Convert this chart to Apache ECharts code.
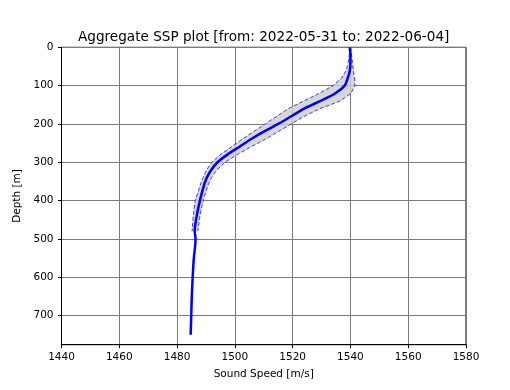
<!DOCTYPE html>
<html>
<head>
<meta charset="utf-8">
<script src="https://cdn.jsdelivr.net/npm/echarts@6/dist/echarts.min.js"></script>
<style>html,body{margin:0;padding:0;background:#fff}#c{width:510px;height:390px}</style>
</head>
<body>
<div id="c"></div>
<script>
// Mean profile
var meanDepth = [0,20,40,60,80,100,120,140,160,180,200,220,240,260,280,300,320,340,360,400,440,480,500,550,600,650,700,750];
var meanSpeed = [1539.8,1540.0,1540.0,1539.8,1539.1,1538.0,1534.8,1529.7,1524.0,1519.5,1515.0,1510.0,1505.5,1501.5,1497.4,1494.0,1491.8,1490.3,1489.3,1487.9,1486.8,1486.1,1486.4,1485.8,1485.4,1485.1,1484.9,1484.7];
// Min / max envelope
var bandDepth = [0,20,40,60,80,100,120,140,160,180,200,220,240,260,280,300,320,340,360,400,440,480];
var minSpeed = [1539.6,1539.6,1539.2,1538.6,1537.0,1534.0,1529.3,1523.8,1518.5,1514.5,1510.5,1506.5,1502.5,1498.8,1495.0,1492.0,1490.2,1489.0,1488.0,1486.3,1485.6,1485.2];
var maxSpeed = [1540.1,1540.4,1540.7,1541.0,1541.4,1541.5,1540.2,1536.5,1529.5,1524.0,1519.5,1515.0,1510.5,1505.5,1500.8,1496.6,1493.8,1491.9,1490.7,1489.0,1487.9,1487.2];
var xTicks = [1440,1460,1480,1500,1520,1540,1560,1580];
var yTicks = [0,100,200,300,400,500,600,700];

function pairs(xs, ys){ return xs.map(function(x,i){ return [x, ys[i]]; }); }

var chart = echarts.init(document.getElementById('c'), null, {renderer:'canvas'});
var font = 'DejaVu Sans';
chart.setOption({
  animation:false,
  backgroundColor:'#fff',
  grid:{left:61.5, right:44, top:47.3, bottom:45.3, show:true, borderColor:'#000', borderWidth:1, backgroundColor:'transparent'},
  graphic:[{type:'text', x:263.7, y:37.5, style:{text:'Aggregate SSP plot [from: 2022-05-31 to: 2022-06-04]', font:'13.6px "DejaVu Sans"', fill:'#000', textAlign:'center', textVerticalAlign:'middle'}}],
  xAxis:{type:'value', min:1440, max:1580, interval:20, name:'Sound Speed [m/s]', nameLocation:'middle', nameGap:24,
    nameTextStyle:{fontFamily:font, fontSize:10.5, color:'#000'},
    axisLine:{show:true, onZero:false, lineStyle:{color:'#000', width:1}},
    axisTick:{show:true, length:3.5, lineStyle:{color:'#000'}, customValues:xTicks},
    axisLabel:{fontFamily:font, fontSize:10.5, color:'#000', margin:7, customValues:xTicks, formatter:function(v){return String(v);}},
    splitLine:{show:true, lineStyle:{color:'#7a7a7a', width:1}}},
  yAxis:{type:'value', inverse:true, min:0, max:776, interval:100, name:'Depth [m]', nameLocation:'middle', nameGap:36,
    nameTextStyle:{fontFamily:font, fontSize:10.5, color:'#000'},
    axisLine:{show:true, onZero:false, lineStyle:{color:'#000', width:1}},
    axisTick:{show:true, length:3.5, lineStyle:{color:'#000'}, customValues:yTicks},
    axisLabel:{fontFamily:font, fontSize:10.5, color:'#000', margin:8, customValues:yTicks, formatter:function(v){return String(v);}},
    splitLine:{show:true, lineStyle:{color:'#7a7a7a', width:1}}},
  series:[
    {type:'custom', silent:true, z:1,
     data:[0],
     renderItem:function(params, api){
       var pts = [];
       for (var i=0;i<bandDepth.length;i++) pts.push(api.coord([minSpeed[i], bandDepth[i]]));
       for (var j=bandDepth.length-1;j>=0;j--) pts.push(api.coord([maxSpeed[j], bandDepth[j]]));
       return {type:'polygon', shape:{points:pts}, style:{fill:'rgba(205,205,205,0.8)', stroke:null}};
     }},
    {type:'line', data:pairs(minSpeed, bandDepth), symbol:'none', z:2,
     lineStyle:{color:'rgba(30,30,255,0.85)', width:1, type:[4,2]}},
    {type:'line', data:pairs(maxSpeed, bandDepth), symbol:'none', z:2,
     lineStyle:{color:'rgba(30,30,255,0.85)', width:1, type:[4,2]}},
    {type:'line', data:pairs(meanSpeed, meanDepth), symbol:'none', z:3, smooth:0.3,
     lineStyle:{color:'#0000ff', width:2.5}}
  ]
});
</script>
</body>
</html>
